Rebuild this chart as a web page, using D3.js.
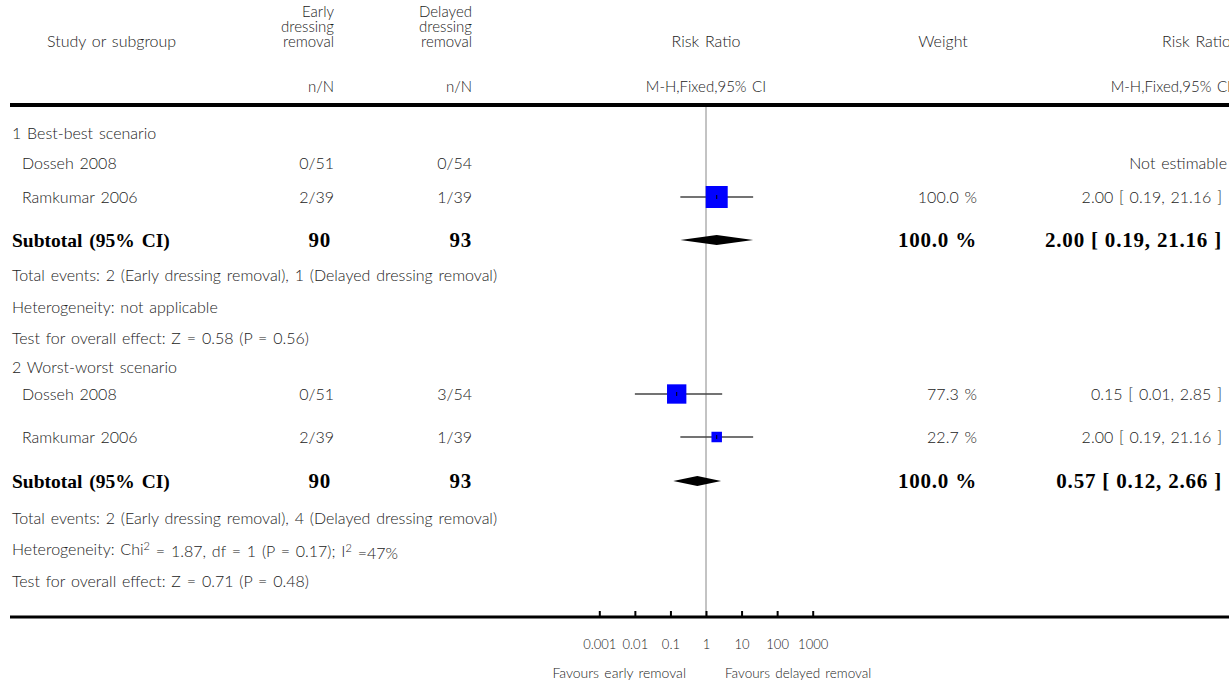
<!DOCTYPE html>
<html>
<head>
<meta charset="utf-8">
<script src="https://cdn.jsdelivr.net/npm/d3@7"></script>
<style>
  body { margin: 0; background: #fff; }
  text { font-family: Lato, "Open Sans", sans-serif; font-weight: 300; fill: #222; word-spacing: 1.5px; }
  .bold { font-family: "Liberation Serif", "DejaVu Serif", serif; font-weight: bold; fill: #000; word-spacing: 2px; }
  .num { letter-spacing: 0.8px; word-spacing: 0; }
</style>
</head>
<body>
<script>
// study rows
var subgroups = ["1 Best-best scenario", "2 Worst-worst scenario"];
var studyNames = ["Dosseh 2008", "Ramkumar 2006", "Dosseh 2008", "Ramkumar 2006"];
var studyGroup = [0, 0, 1, 1];
var earlyEvents = [0, 2, 0, 2];
var earlyTotal = [51, 39, 51, 39];
var delayedEvents = [0, 1, 3, 1];
var delayedTotal = [54, 39, 54, 39];
var studyRR = [null, 2.00, 0.15, 2.00];
var studyLo = [null, 0.19, 0.01, 0.19];
var studyHi = [null, 21.16, 2.85, 21.16];
var studyWeight = [null, 100.0, 77.3, 22.7];

// subtotals
var subEarlyTotal = [90, 90];
var subDelayedTotal = [93, 93];
var subRR = [2.00, 0.57];
var subLo = [0.19, 0.12];
var subHi = [21.16, 2.66];
var subWeight = [100.0, 100.0];
var subEarlyEvents = [2, 2];
var subDelayedEvents = [1, 4];
var heterogeneity = [null, {chi2: "1.87", df: "1", p: "0.17", i2: "47"}];
var overallZ = ["0.58", "0.71"];
var overallP = ["0.56", "0.48"];

// axis
var tickValues = [0.001, 0.01, 0.1, 1, 10, 100, 1000];
var tickLabels = ["0.001", "0.01", "0.1", "1", "10", "100", "1000"];
var favoursLeft = "Favours early removal";
var favoursRight = "Favours delayed removal";

var W = 1229, H = 682;
var svg = d3.select("body").append("svg")
  .attr("width", W)
  .attr("height", H);

var x = d3.scaleLog().domain([0.001, 1000]).range([599.3, 812.7]);
var boxSize = d3.scaleSqrt().domain([0, 100]).range([0, 22]);

// column anchors
var colStudy = 12, colIndent = 22, colEarly = 334, colDelayed = 472,
    colWeight = 977, colRR = 1222;

// row layout (y of row centres)
var groupY = [133, 367];
var studyY = [163, 197, 394, 437];
var subY = [240, 481];
var totY = [275, 518], hetY = [307, 549], testY = [338, 581];
var axisY = 617, headLineY = 105;

function txt(xp, yp, s, anchor, size, cls) {
  return svg.append("text")
    .attr("x", xp).attr("y", yp)
    .attr("dy", "0.35em")
    .attr("text-anchor", anchor || "start")
    .attr("class", cls || null)
    .style("font-size", (size || 16) + "px")
    .text(s);
}
function fmt(v) { return v.toFixed(2); }
function ci(rr, lo, hi) { return fmt(rr) + " [ " + fmt(lo) + ", " + fmt(hi) + " ]"; }

// header
txt(47, 41, "Study or subgroup");
["Early", "dressing", "removal"].forEach(function(s, i) { txt(colEarly, 12 + i * 15, s, "end", 15); });
["Delayed", "dressing", "removal"].forEach(function(s, i) { txt(colDelayed, 12 + i * 15, s, "end", 15); });
txt(colEarly, 87, "n/N", "end", 15);
txt(colDelayed, 87, "n/N", "end", 15);
txt(x(1), 41, "Risk Ratio", "middle");
txt(x(1), 87, "M-H,Fixed,95% CI", "middle", 15);
txt(943, 41, "Weight", "middle");
txt(1231, 41, "Risk Ratio", "end");
txt(1231, 87, "M-H,Fixed,95% CI", "end", 15);

svg.append("line").attr("x1", 10).attr("x2", W).attr("y1", headLineY).attr("y2", headLineY)
  .attr("stroke", "#000").attr("stroke-width", 4);

// reference line at RR = 1
svg.append("line").attr("x1", x(1)).attr("x2", x(1)).attr("y1", headLineY + 2).attr("y2", axisY)
  .attr("stroke", "#888").attr("stroke-width", 1);

// subgroup blocks
subgroups.forEach(function(g, gi) {
  txt(colStudy, groupY[gi], g);

  studyNames.forEach(function(name, i) {
    if (studyGroup[i] !== gi) return;
    var y = studyY[i];
    txt(colIndent, y, name);
    txt(colEarly, y, earlyEvents[i] + "/" + earlyTotal[i], "end");
    txt(colDelayed, y, delayedEvents[i] + "/" + delayedTotal[i], "end");
    if (studyRR[i] == null) {
      txt(colRR + 5, y, "Not estimable", "end");
      return;
    }
    txt(colWeight, y, studyWeight[i].toFixed(1) + " %", "end");
    txt(colRR, y, ci(studyRR[i], studyLo[i], studyHi[i]), "end");
    svg.append("line")
      .attr("x1", x(studyLo[i])).attr("x2", x(studyHi[i]))
      .attr("y1", y).attr("y2", y)
      .attr("stroke", "#444").attr("stroke-width", 1.5);
    var s = boxSize(studyWeight[i]);
    svg.append("rect")
      .attr("x", x(studyRR[i]) - s / 2).attr("y", y - s / 2)
      .attr("width", s).attr("height", s)
      .attr("fill", "#0000ff");
    svg.append("line")
      .attr("x1", x(studyRR[i])).attr("x2", x(studyRR[i]))
      .attr("y1", y - 2).attr("y2", y + 2)
      .attr("stroke", "#000").attr("stroke-width", 1);
  });

  var sy = subY[gi];
  txt(colStudy, sy, "Subtotal (95% CI)", "start", 19.5, "bold");
  txt(colEarly - 3, sy, subEarlyTotal[gi], "end", 21, "bold num");
  txt(colDelayed, sy, subDelayedTotal[gi], "end", 21, "bold num");
  txt(colWeight, sy, subWeight[gi].toFixed(1) + " %", "end", 21, "bold num");
  txt(colRR, sy, ci(subRR[gi], subLo[gi], subHi[gi]), "end", 21, "bold num");

  var d = [[x(subLo[gi]), sy], [x(subRR[gi]), sy - 5], [x(subHi[gi]), sy], [x(subRR[gi]), sy + 5]];
  svg.append("path").attr("d", d3.line()(d) + "Z").attr("fill", "#000");

  txt(colStudy, totY[gi], "Total events: " + subEarlyEvents[gi] + " (Early dressing removal), " +
    subDelayedEvents[gi] + " (Delayed dressing removal)");

  var h = heterogeneity[gi];
  if (h == null) {
    txt(colStudy, hetY[gi], "Heterogeneity: not applicable");
  } else {
    var t = txt(colStudy, hetY[gi], "Heterogeneity: Chi");
    t.append("tspan").attr("dy", "-0.4em").style("font-size", "11px").text("2");
    t.append("tspan").attr("dy", "0.4em").text(" = " + h.chi2 + ", df = " + h.df + " (P = " + h.p + "); I");
    t.append("tspan").attr("dy", "-0.4em").style("font-size", "11px").text("2");
    t.append("tspan").attr("dy", "0.4em").text(" =" + h.i2 + "%");
  }
  txt(colStudy, testY[gi], "Test for overall effect: Z = " + overallZ[gi] + " (P = " + overallP[gi] + ")");
});

// bottom axis
var axis = d3.axisBottom(x)
  .tickValues(tickValues)
  .tickFormat(function(d, i) { return tickLabels[i]; })
  .tickSizeInner(-6)
  .tickSizeOuter(0)
  .tickPadding(23);

var ag = svg.append("g").attr("transform", "translate(0," + axisY + ")").call(axis);
ag.select(".domain").remove();
ag.selectAll(".tick line").attr("stroke", "#000").attr("stroke-width", 2);
ag.selectAll(".tick text")
  .style("font-family", "Lato, sans-serif").style("font-weight", 300)
  .style("font-size", "13px").attr("fill", "#222");

svg.append("line").attr("x1", 10).attr("x2", W).attr("y1", axisY).attr("y2", axisY)
  .attr("stroke", "#000").attr("stroke-width", 3);

txt(x(1) - 20, 673, favoursLeft, "end", 14);
txt(x(1) + 19, 673, favoursRight, "start", 13.5);
</script>
</body>
</html>
